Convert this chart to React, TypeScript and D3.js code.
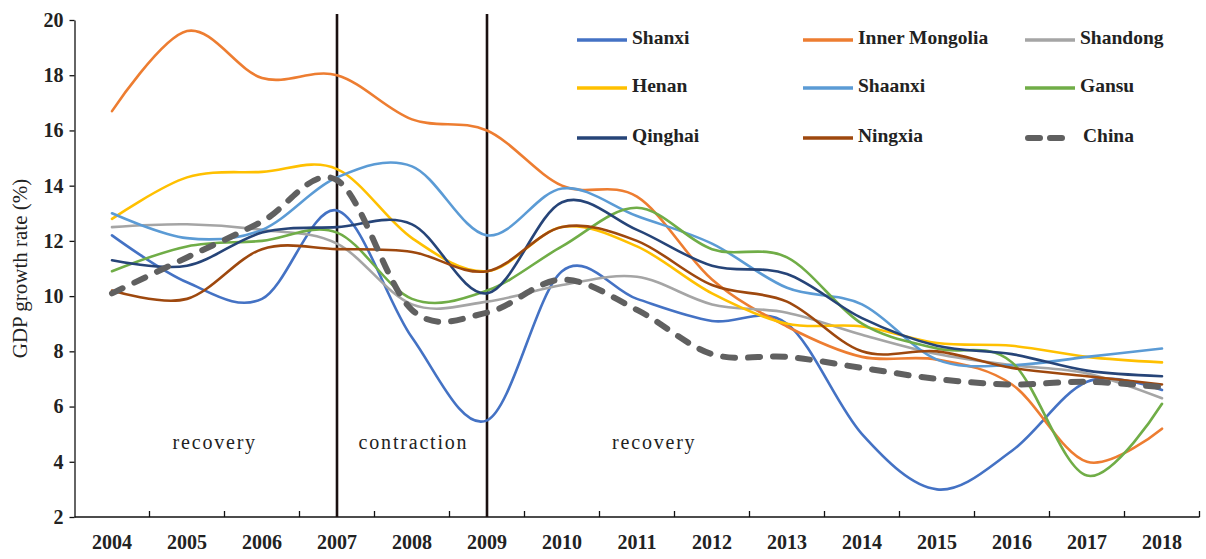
import React, { useRef, useEffect } from 'react';
import * as d3 from 'd3';

// GDP growth rate (%) by province, 2004-2018
const years = ['2004', '2005', '2006', '2007', '2008', '2009', '2010', '2011', '2012', '2013', '2014', '2015', '2016', '2017', '2018'];

const shanxi = [12.2, 10.5, 9.9, 13.1, 8.5, 5.5, 10.9, 9.9, 9.1, 9.0, 5.0, 3.0, 4.4, 6.9, 6.6];
const innerMongolia = [16.7, 19.6, 17.9, 18.0, 16.4, 16.0, 14.0, 13.6, 10.6, 8.9, 7.8, 7.7, 6.8, 4.0, 5.2];
const shandong = [12.5, 12.6, 12.4, 11.9, 9.7, 9.8, 10.4, 10.7, 9.7, 9.4, 8.6, 7.9, 7.5, 7.2, 6.3];
const henan = [12.8, 14.3, 14.5, 14.6, 12.1, 10.9, 12.5, 11.8, 10.1, 9.0, 8.9, 8.3, 8.2, 7.8, 7.6];
const shaanxi = [13.0, 12.1, 12.4, 14.3, 14.7, 12.2, 13.9, 12.9, 11.9, 10.3, 9.7, 7.7, 7.5, 7.8, 8.1];
const gansu = [10.9, 11.8, 12.0, 12.3, 9.9, 10.2, 11.8, 13.2, 11.7, 11.4, 9.0, 8.1, 7.6, 3.5, 6.1];
const qinghai = [11.3, 11.1, 12.3, 12.5, 12.6, 10.1, 13.4, 12.4, 11.1, 10.8, 9.2, 8.2, 7.9, 7.3, 7.1];
const ningxia = [10.2, 9.9, 11.7, 11.7, 11.6, 10.9, 12.5, 12.0, 10.4, 9.8, 8.0, 8.0, 7.4, 7.1, 6.8];
const china = [10.1, 11.4, 12.7, 14.2, 9.5, 9.4, 10.6, 9.5, 7.9, 7.8, 7.4, 7.0, 6.8, 6.9, 6.7];

const seriesNames = ['Shanxi', 'Inner Mongolia', 'Shandong', 'Henan', 'Shaanxi', 'Gansu', 'Qinghai', 'Ningxia', 'China'];
const seriesValues = [shanxi, innerMongolia, shandong, henan, shaanxi, gansu, qinghai, ningxia, china];
const seriesColors = ['#4472C4', '#ED7D31', '#A5A5A5', '#FFC000', '#5B9BD5', '#70AD47', '#264478', '#9E480E', '#606060'];

const yTicks = [2, 4, 6, 8, 10, 12, 14, 16, 18, 20];
const phaseBreaks = [2007, 2009];
const phaseLabels = [
  { text: 'recovery', at: 2005.37 },
  { text: 'contraction', at: 2008.02 },
  { text: 'recovery', at: 2011.23 },
];

const FONT = "'Times New Roman', 'Liberation Serif', serif";

export default function App() {
  const svgRef = useRef<SVGSVGElement>(null);

  useEffect(() => {
    if (!svgRef.current) return;
    const width = 1206;
    const height = 559;
    const left = 74.5;
    const right = 1199.5;
    const top = 20;
    const bottom = 517;

    const svg = d3.select(svgRef.current);
    svg.selectAll('*').remove();
    svg.attr('width', width).attr('height', height).attr('viewBox', `0 0 ${width} ${height}`);

    svg.append('rect').attr('width', width).attr('height', height).attr('fill', '#fff');

    const x = d3.scaleBand<string>().domain(years).range([left, right]).padding(0);
    const cx = (d: string) => (x(d) as number) + x.bandwidth() / 2;
    const xYear = d3.scaleLinear()
      .domain([+years[0], +years[years.length - 1]])
      .range([cx(years[0]), cx(years[years.length - 1])]);
    const y = d3.scaleLinear().domain([2, 20]).range([bottom, top]);

    // y axis
    const yAxis = svg.append('g')
      .attr('transform', `translate(${left},0)`)
      .call(d3.axisLeft(y).tickValues(yTicks).tickSize(5).tickSizeOuter(0).tickFormat(d3.format('d')));
    yAxis.select('.domain').attr('stroke', '#111').attr('stroke-width', 1.3);
    yAxis.selectAll('.tick line').attr('stroke', '#111').attr('stroke-width', 1.3);
    yAxis.selectAll('.tick text')
      .attr('x', -11)
      .attr('font-family', FONT)
      .attr('font-size', 20)
      .attr('font-weight', 'bold')
      .attr('fill', '#222');

    svg.append('text')
      .attr('transform', `translate(22, ${(top + bottom) / 2}) rotate(-90)`)
      .attr('text-anchor', 'middle')
      .attr('dominant-baseline', 'middle')
      .attr('font-family', FONT)
      .attr('font-size', 21)
      .attr('fill', '#222')
      .text('GDP growth rate (%)');

    // x axis: line, boundary ticks pointing up, centered labels
    svg.append('line')
      .attr('x1', left).attr('x2', right)
      .attr('y1', bottom).attr('y2', bottom)
      .attr('stroke', '#111').attr('stroke-width', 1.3);

    const bounds = years.slice(1).map((d) => x(d) as number).concat([right]);
    svg.append('g').selectAll('line')
      .data(bounds)
      .join('line')
      .attr('x1', (d) => d).attr('x2', (d) => d)
      .attr('y1', bottom).attr('y2', bottom - 6)
      .attr('stroke', '#111').attr('stroke-width', 1.3);

    svg.append('g').selectAll('text')
      .data(years)
      .join('text')
      .attr('x', (d) => cx(d))
      .attr('y', bottom + 32)
      .attr('text-anchor', 'middle')
      .attr('font-family', FONT)
      .attr('font-size', 20)
      .attr('font-weight', 'bold')
      .attr('fill', '#222')
      .text((d) => d);

    // phase separators
    svg.append('g').selectAll('line')
      .data(phaseBreaks)
      .join('line')
      .attr('x1', (d) => xYear(d)).attr('x2', (d) => xYear(d))
      .attr('y1', top - 6).attr('y2', bottom)
      .attr('stroke', '#1a1010').attr('stroke-width', 2.6);

    svg.append('g').selectAll('text')
      .data(phaseLabels)
      .join('text')
      .attr('x', (d) => xYear(d.at))
      .attr('y', 449)
      .attr('text-anchor', 'middle')
      .attr('font-family', FONT)
      .attr('font-size', 20)
      .attr('letter-spacing', 1.8)
      .attr('fill', '#222')
      .text((d) => d.text);

    // series
    const line = d3.line<number>()
      .x((_, i) => cx(years[i]))
      .y((d) => y(d))
      .curve(d3.curveCatmullRom.alpha(0));

    seriesValues.forEach((vals, i) => {
      const isChina = seriesNames[i] === 'China';
      svg.append('path')
        .datum(vals)
        .attr('d', line)
        .attr('fill', 'none')
        .attr('stroke', seriesColors[i])
        .attr('stroke-width', isChina ? 6 : 2.6)
        .attr('stroke-linecap', 'round')
        .attr('stroke-dasharray', isChina ? '12,13' : null);
    });

    // legend
    const colX = [577, 803, 1025];
    const rowY = [40, 88, 138];
    const legend = svg.append('g');
    seriesNames.forEach((name, i) => {
      const lx = colX[i % 3];
      const ly = rowY[Math.floor(i / 3)];
      const isChina = name === 'China';
      legend.append('line')
        .attr('x1', isChina ? lx + 3 : lx).attr('x2', isChina ? lx + 43 : lx + 50)
        .attr('y1', ly).attr('y2', ly)
        .attr('stroke', seriesColors[i])
        .attr('stroke-width', isChina ? 6 : 3.5)
        .attr('stroke-linecap', isChina ? 'round' : 'butt')
        .attr('stroke-dasharray', isChina ? '12,10' : null);
      legend.append('text')
        .attr('x', isChina ? lx + 58 : lx + 55)
        .attr('y', ly)
        .attr('dominant-baseline', 'middle')
        .attr('font-family', FONT)
        .attr('font-size', 19.5)
        .attr('font-weight', 'bold')
        .attr('fill', '#222')
        .text(name);
    });
  }, []);

  return (
    <div style={{ position: 'absolute', left: 0, top: 0 }}>
      <svg ref={svgRef} style={{ display: 'block' }} />
    </div>
  );
}
